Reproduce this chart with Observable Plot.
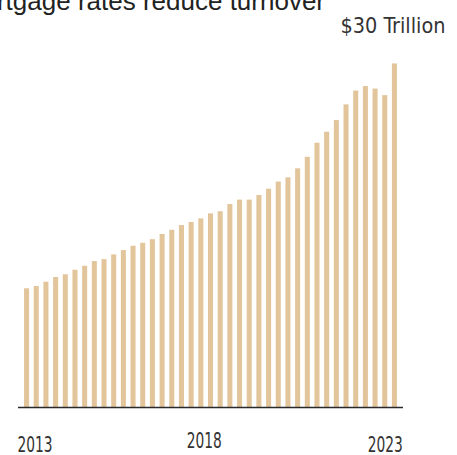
<!DOCTYPE html>
<html><head><meta charset="utf-8">
<script src="https://cdn.jsdelivr.net/npm/d3@7"></script>
<script src="https://cdn.jsdelivr.net/npm/@observablehq/plot@0.6"></script>
<style>
html,body{margin:0;padding:0;background:#fff;overflow:hidden;width:457px;height:455px;}
#wrap{position:relative;width:457px;height:455px;overflow:hidden;}
#title{position:absolute;top:-12px;left:0;white-space:nowrap;font-family:"Liberation Sans",Arial,sans-serif;font-size:26px;line-height:26px;color:#222;}
#chart{position:absolute;top:0;left:0;}
svg text{font-stretch:condensed;}
</style></head><body>
<div id="wrap"><div id="title"><span id="pre">Higher mo</span>rtgage rates reduce turnover</div><div id="chart"></div></div>
<script>
const quarters = [
  "2013 Q1","2013 Q2","2013 Q3","2013 Q4",
  "2014 Q1","2014 Q2","2014 Q3","2014 Q4",
  "2015 Q1","2015 Q2","2015 Q3","2015 Q4",
  "2016 Q1","2016 Q2","2016 Q3","2016 Q4",
  "2017 Q1","2017 Q2","2017 Q3","2017 Q4",
  "2018 Q1","2018 Q2","2018 Q3","2018 Q4",
  "2019 Q1","2019 Q2","2019 Q3","2019 Q4",
  "2020 Q1","2020 Q2","2020 Q3","2020 Q4",
  "2021 Q1","2021 Q2","2021 Q3","2021 Q4",
  "2022 Q1","2022 Q2","2022 Q3"
];
const values = [
  9.60, 9.78, 10.13, 10.51,
  10.73, 11.10, 11.42, 11.80,
  11.96, 12.34, 12.69, 13.04,
  13.28, 13.57, 13.99, 14.33,
  14.71, 14.96, 15.25, 15.66,
  15.83, 16.41, 16.77, 16.77,
  17.14, 17.65, 18.23, 18.57,
  19.30, 20.23, 21.37, 22.26,
  23.20, 24.47, 25.59, 25.95,
  25.75, 25.22, 27.78
];
const tickLabels = ["2013", "2018", "2023"];
const tickQuarters = ["2013 Q1", "2017 Q3", "2022 Q2"];
const yLabel = "$30 Trillion";
const yLabelValue = 30;

const data = quarters.map((q, i) => ({q, v: values[i]}));
const narrow = '"DejaVu Sans",sans-serif';
const tickOffsets = [{dx: 8, dy: 0}, {dx: 3, dy: -4}, {dx: 0, dy: 0}];

const chart = Plot.plot({
  width: 457,
  height: 455,
  marginLeft: 18,
  marginRight: 54,
  marginTop: 36,
  marginBottom: 48,
  x: {type: "band", domain: quarters, paddingInner: 0.48, paddingOuter: 0.625, round: false, axis: null},
  y: {domain: [0, 30], axis: null},
  style: {background: "transparent", overflow: "visible"},
  marks: [
    Plot.barY(data, {x: "q", y: "v", fill: "#e2c59b"}),
    Plot.ruleY([0], {stroke: "#2a2a2a", strokeWidth: 1.5}),
    Plot.text([yLabel], {y: () => yLabelValue, frameAnchor: "right", textAnchor: "end", lineAnchor: "bottom", dx: 42, dy: -4, fontSize: 22, fontFamily: narrow, fill: "#333"}),
    ...tickLabels.map((t, i) => Plot.text([t], {
      x: () => tickQuarters[i], y: () => 0, textAnchor: "middle", lineAnchor: "bottom",
      dx: tickOffsets[i].dx, dy: 44 + tickOffsets[i].dy, fontSize: 22, fontFamily: narrow, fill: "#333"
    }))
  ]
});
document.getElementById("chart").append(chart);

// condense the year labels to the reference's narrow, tall look
d3.select(chart).selectAll("text").each(function () {
  const t = this.textContent;
  if (tickLabels.includes(t)) {
    this.setAttribute("textLength", 35);
    this.setAttribute("lengthAdjust", "spacingAndGlyphs");
  } else if (t === yLabel) {
    this.setAttribute("textLength", 105);
    this.setAttribute("lengthAdjust", "spacingAndGlyphs");
  }
});

function placeTitle() {
  const pre = document.getElementById("pre");
  document.getElementById("title").style.left = (-pre.offsetWidth - 3) + "px";
}
placeTitle();
if (document.fonts && document.fonts.ready) document.fonts.ready.then(placeTitle);
</script>
</body></html>
